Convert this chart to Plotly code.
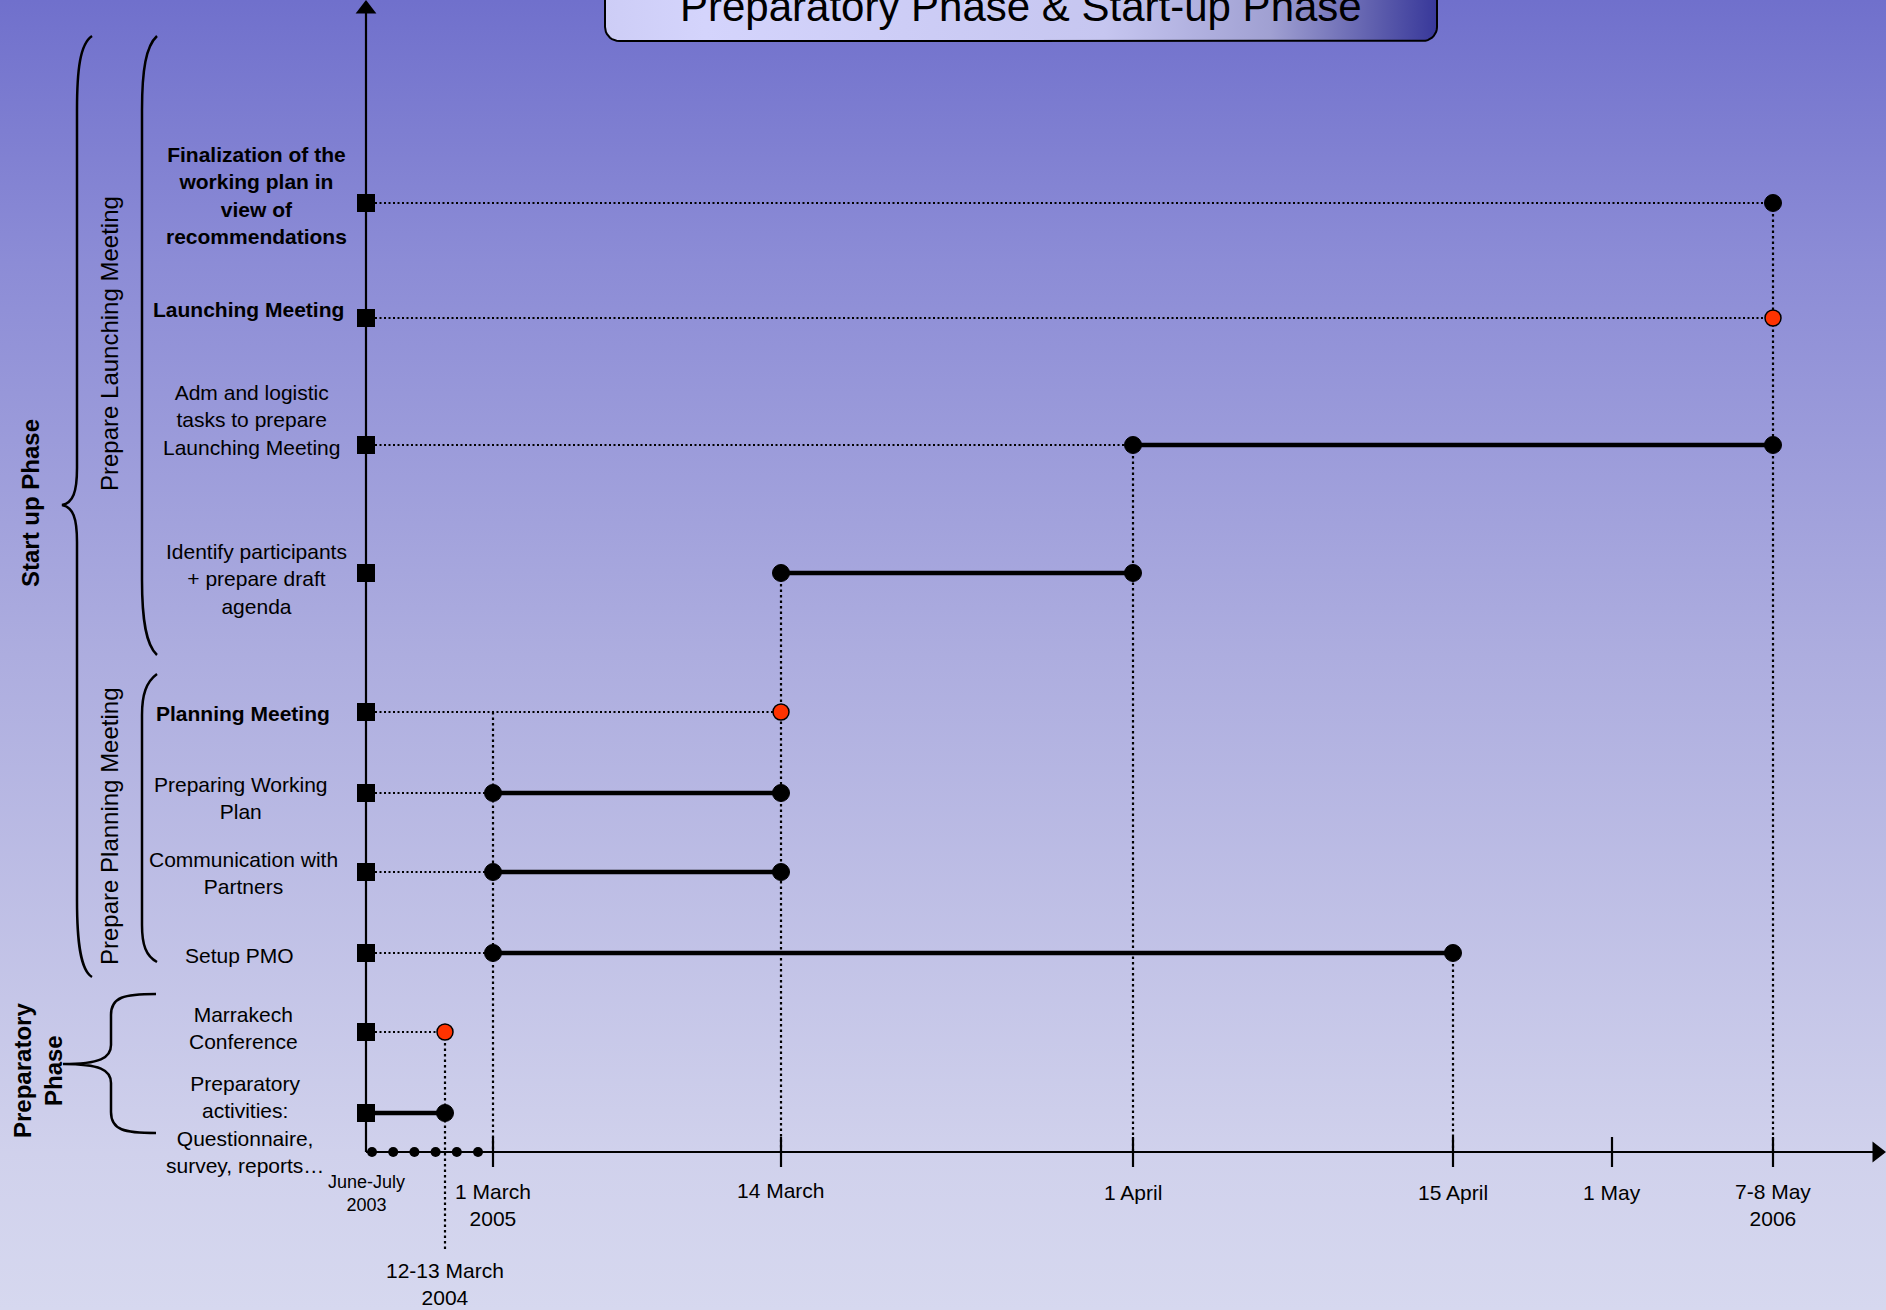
import numpy as np
import plotly.graph_objects as go

W, H = 1886, 1310

# ------------------------------------------------------------------ data
milestones = ["June-July<br>2003", "12-13 March<br>2004", "1 March<br>2005", "14 March",
              "1 April", "15 April", "1 May", "7-8 May<br>2006"]
# position of each milestone along the (not-to-scale) timeline
milestone_pos = [0, 79, 127, 415, 767, 1087, 1246, 1407]
milestone_tick = [False, False, True, True, True, True, True, True]

tasks = ["Preparatory<br>activities:<br>Questionnaire,<br>survey, reports…",
         "Marrakech<br>Conference",
         "Setup PMO",
         "Communication with<br>Partners",
         "Preparing Working<br>Plan",
         "<b>Planning Meeting</b>",
         "Identify participants<br>+ prepare draft<br>agenda",
         "Adm and logistic<br>tasks to prepare<br>Launching Meeting",
         "<b>Launching Meeting</b>",
         "<b>Finalization of the<br>working plan in<br>view of<br>recommendations</b>"]
task_row = [39, 120, 199, 280, 359, 440, 579, 707, 834, 949]   # vertical position of each row
task_start = [0, 1, 2, 2, 2, 3, 3, 4, 7, 7]                     # milestone index
task_end = [1, 1, 5, 3, 3, 3, 4, 7, 7, 7]
task_kind = ["bar", "event", "bar", "bar", "bar", "event", "bar", "bar", "event", "point"]
task_lead = [False, True, True, True, True, True, False, True, True, True]

# vertical guide lines: milestone index -> task row where the guide starts
guide_milestone = [1, 2, 3, 4, 5, 7]
guide_top_task = [1, 5, 6, 7, 2, 9]

groups = ["<b>Start up Phase</b>", "<b>Preparatory<br>Phase</b>",
          "Prepare Launching Meeting", "Prepare Planning Meeting"]
title = "Preparatory Phase & Start-up Phase"

# ------------------------------------------------------------------ layout helpers
OX, OY = 366, 1152          # pixel position of the timeline origin
X0, X1 = -OX, W - OX
Y0, Y1 = -(H - OY), OY


def dx(px):
    return px - OX


def dy(py):
    return OY - py


FONT = "Liberation Sans, Arial, sans-serif"
BLACK = "#000000"
RED = "#FF3300"

fig = go.Figure()

# background gradient
fig.add_trace(go.Scatter(
    x=[X0, X1, X1, X0, X0], y=[Y0, Y0, Y1, Y1, Y0], mode="none", fill="toself",
    fillgradient=dict(type="vertical", start=Y0, stop=Y1,
                      colorscale=[[0, "#d6d8ef"], [0.12, "#d0d1ec"], [0.5, "#adaddf"],
                                  [0.8, "#8c8cd6"], [1, "#7070cc"]]),
    hoverinfo="skip", showlegend=False))


# title box (rounded rectangle with gradient)
def rounded_rect(x0, x1, y0, y1, r, n=10):
    pts = []
    for cx, cy, a0 in [(x1 - r, y1 - r, 0), (x0 + r, y1 - r, 90),
                       (x0 + r, y0 + r, 180), (x1 - r, y0 + r, 270)]:
        for t in np.linspace(a0, a0 + 90, n):
            pts.append((cx + r * np.cos(np.radians(t)), cy + r * np.sin(np.radians(t))))
    pts.append(pts[0])
    xs, ys = zip(*pts)
    return list(xs), list(ys)


bx, by = rounded_rect(dx(605), dx(1437), dy(41), dy(-40), 14)
fig.add_trace(go.Scatter(
    x=bx, y=by, mode="lines", fill="toself", line=dict(color=BLACK, width=2),
    fillgradient=dict(type="horizontal", start=dx(605), stop=dx(1437),
                      colorscale=[[0, "#cdcdf6"], [0.12, "#d4d4fc"], [0.6, "#c6c6f0"],
                                  [0.8, "#a0a0d2"], [0.93, "#5c5cac"], [1, "#38389a"]]),
    hoverinfo="skip", showlegend=False))

pos = lambda i: milestone_pos[i]

# vertical dotted guides
gx, gy = [], []
for m, t in zip(guide_milestone, guide_top_task):
    bottom = dy(1251) if m == 1 else 0
    gx += [pos(m), pos(m), None]
    gy += [task_row[t], bottom, None]
fig.add_trace(go.Scatter(x=gx, y=gy, mode="lines", line=dict(color=BLACK, width=2.2, dash="2.5px,3px"),
                         hoverinfo="skip", showlegend=False))

# horizontal dotted leads from the axis
lx, ly = [], []
for s, r, lead in zip(task_start, task_row, task_lead):
    if lead:
        lx += [0, pos(s), None]
        ly += [r, r, None]
fig.add_trace(go.Scatter(x=lx, y=ly, mode="lines", line=dict(color=BLACK, width=1.8, dash="2px,2.5px"),
                         hoverinfo="skip", showlegend=False))

# thick bars
bx2, by2 = [], []
for s, e, r, k in zip(task_start, task_end, task_row, task_kind):
    if k == "bar":
        bx2 += [pos(s), pos(e), None]
        by2 += [r, r, None]
fig.add_trace(go.Scatter(x=bx2, y=by2, mode="lines", line=dict(color=BLACK, width=4.5),
                         hoverinfo="skip", showlegend=False))

# axes lines
fig.add_trace(go.Scatter(x=[0, X1 - 10, None, 0, 0], y=[0, 0, None, 0, Y1 - 8], mode="lines",
                         line=dict(color=BLACK, width=2.2), hoverinfo="skip", showlegend=False))
# tick marks
tx, ty = [], []
for p, has in zip(milestone_pos, milestone_tick):
    if has:
        tx += [p, p, None]
        ty += [15, -15, None]
fig.add_trace(go.Scatter(x=tx, y=ty, mode="lines", line=dict(color=BLACK, width=2.2),
                         hoverinfo="skip", showlegend=False))
# break dots on the axis (before 2005)
brk = np.linspace(6, pos(2) - 15, 6)
fig.add_trace(go.Scatter(x=brk, y=[0] * len(brk), mode="markers",
                         marker=dict(color=BLACK, size=10), hoverinfo="skip", showlegend=False))
# arrow heads
fig.add_trace(go.Scatter(x=[X1 - 9], y=[0], mode="markers",
                         marker=dict(symbol="triangle-right", color=BLACK, size=18),
                         hoverinfo="skip", showlegend=False))
fig.add_trace(go.Scatter(x=[0], y=[Y1 - 9], mode="markers",
                         marker=dict(symbol="triangle-up", color=BLACK, size=18),
                         hoverinfo="skip", showlegend=False))

# squares on the vertical axis
fig.add_trace(go.Scatter(x=[0] * len(task_row), y=task_row, mode="markers",
                         marker=dict(symbol="square", color=BLACK, size=18),
                         hoverinfo="skip", showlegend=False))

# black dots (bar ends and points)
dxs, dys = [], []
for s, e, r, k in zip(task_start, task_end, task_row, task_kind):
    if k == "bar":
        if s > 0:
            dxs.append(pos(s)); dys.append(r)
        dxs.append(pos(e)); dys.append(r)
    elif k == "point":
        dxs.append(pos(s)); dys.append(r)
fig.add_trace(go.Scatter(x=dxs, y=dys, mode="markers",
                         marker=dict(color=BLACK, size=17, line=dict(color=BLACK, width=1)),
                         hoverinfo="skip", showlegend=False))
# red events
ex = [pos(s) for s, k in zip(task_start, task_kind) if k == "event"]
ey = [r for r, k in zip(task_row, task_kind) if k == "event"]
fig.add_trace(go.Scatter(x=ex, y=ey, mode="markers",
                         marker=dict(color=RED, size=16, line=dict(color=BLACK, width=1.5)),
                         hoverinfo="skip", showlegend=False))

# ------------------------------------------------------------------ text
ann = []
label_cx = [245, 243, 239, 243, 241, 243, 256, 251, 248, 256]
label_cy = [1124, 1028, 955, 873, 798, 713, 579, 420, 309, 195]
for t, cx, cy in zip(tasks, label_cx, label_cy):
    ann.append(dict(x=dx(cx), y=dy(cy), text=t, showarrow=False, xanchor="center", yanchor="middle",
                    align="center", font=dict(family=FONT, size=21, color=BLACK)))

tick_cy = [1193, 1284, 1205, 1190, 1192, 1192, 1192, 1205]
for lab, p, cy, i in zip(milestones, milestone_pos, tick_cy, range(len(milestones))):
    ann.append(dict(x=p, y=dy(cy), text=lab, showarrow=False, xanchor="center", yanchor="middle",
                    align="center", font=dict(family=FONT, size=18 if i == 0 else 21, color=BLACK)))

group_xy = [(30, 503), (38, 1071), (109, 344), (109, 826)]
for g, (gxp, gyp) in zip(groups, group_xy):
    ann.append(dict(x=dx(gxp), y=dy(gyp), text=g, showarrow=False, textangle=-90,
                    xanchor="center", yanchor="middle", align="center",
                    font=dict(family=FONT, size=24, color=BLACK)))

ann.append(dict(x=dx(1021), y=dy(6), text=title, showarrow=False, xanchor="center", yanchor="middle",
                font=dict(family=FONT, size=42, color=BLACK)))


# ------------------------------------------------------------------ braces
def path(cmds):
    out = []
    for c in cmds:
        if isinstance(c, str):
            out.append(c)
        else:
            out.append(f"{dx(c[0])},{dy(c[1])}")
    return " ".join(out)


braces = [
    ["M", (92, 36), "C", (80, 44), (77, 70), (77, 110), "L", (77, 468),
     "C", (77, 492), (73, 503), (62, 505), "C", (73, 507), (77, 518), (77, 542),
     "L", (77, 900), "C", (77, 940), (80, 970), (92, 977)],
    ["M", (157, 36), "C", (146, 46), (142, 70), (142, 110), "L", (142, 580),
     "C", (142, 620), (146, 645), (157, 655)],
    ["M", (157, 674), "C", (146, 682), (142, 695), (142, 715), "L", (142, 925),
     "C", (142, 945), (146, 956), (157, 962)],
    ["M", (156, 994), "C", (124, 994), (111, 997), (111, 1015), "L", (111, 1045),
     "C", (111, 1058), (100, 1064), (63, 1064), "C", (100, 1064), (111, 1070), (111, 1083),
     "L", (111, 1112), "C", (111, 1130), (124, 1133), (156, 1133)],
]
shapes = [dict(type="path", xref="x", yref="y", path=path(b), line=dict(color=BLACK, width=2.5))
          for b in braces]

fig.update_layout(
    width=W, height=H, margin=dict(l=0, r=0, t=0, b=0),
    paper_bgcolor="#d6d8ef", plot_bgcolor="#d6d8ef",
    xaxis=dict(range=[X0, X1], visible=False, fixedrange=True),
    yaxis=dict(range=[Y0, Y1], visible=False, fixedrange=True),
    showlegend=False, annotations=ann, shapes=shapes,
    font=dict(family=FONT, color=BLACK),
)

fig.write_html("out.html", include_plotlyjs=True, full_html=True,
               config={"displayModeBar": False, "staticPlot": True},
               post_script="document.body.style.margin='0px';document.body.style.overflow='hidden';")
